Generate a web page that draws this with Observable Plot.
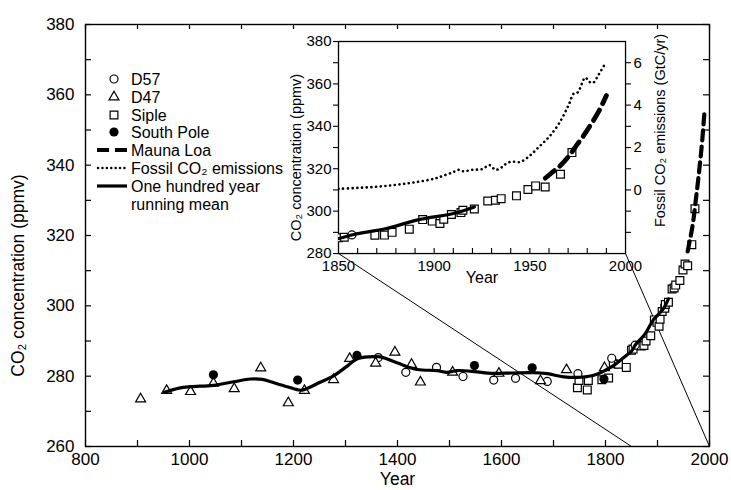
<!DOCTYPE html>
<html><head><meta charset="utf-8">
<script src="https://cdn.jsdelivr.net/npm/d3@7"></script>
<script src="https://cdn.jsdelivr.net/npm/@observablehq/plot@0.6"></script>
<style>
html,body{margin:0;padding:0;background:#fff;}
#chart{position:relative;width:731px;height:490px;overflow:hidden;background:#fff;}
#chart > svg{position:absolute;left:0;top:0;overflow:visible;}
</style></head><body><div id="chart"></div>
<script>
// ---------- data ----------
const d57Year = [1363,1416,1475,1526,1585,1627,1688,1747,1812,1857];
const d57Co2  = [285.3,281.1,282.5,279.9,278.9,279.4,278.5,280.7,285.1,288.8];

const d47Year = [906,956,1002,1046,1086,1137,1190,1221,1277,1308,1358,1395,1427,1444,1506,1595,1675,1725,1798];
const d47Co2  = [273.5,275.9,275.6,278.0,276.4,282.3,272.4,275.9,279.0,285.0,283.7,286.8,283.3,278.3,281.1,280.8,278.7,281.8,282.4];

const sipleYear = [1746,1749,1765,1767,1793,1806,1815,1825,1840,1850,1853,1869,1874,1878,1887,1894,1899,1903,1905,1909,1914,1915,1921,1928,1932,1935,1943,1949,1953,1958,1966,1972];
const sipleCo2  = [276.7,278.8,276.1,278.8,279.0,279.5,283.5,283.4,282.5,287.4,287.7,288.6,288.7,290.0,291.5,296.0,295.3,294.2,296.2,298.4,299.3,300.4,301.0,304.8,305.1,305.9,307.2,310.2,311.9,311.4,317.4,327.6];

const spYear = [1046,1208,1322,1548,1659,1797];
const spCo2  = [280.4,278.9,285.9,283.0,282.4,279.2];

const mloYear = [1958,1962,1966,1970,1974,1978,1982,1986,1990];
const mloCo2  = [315.5,318.5,321.5,325.5,330.5,335.5,341.0,347.0,354.5];

const emisYear = [1850,1860,1870,1880,1890,1900,1905,1910,1913,1915,1920,1925,1929,1932,1935,1937,1940,1945,1950,1955,1960,1965,1970,1973,1975,1979,1981,1983,1986,1989];
const emisGtC  = [0.05,0.10,0.15,0.24,0.36,0.53,0.68,0.84,0.95,0.88,0.95,0.98,1.17,0.95,1.05,1.20,1.33,1.32,1.62,2.05,2.50,3.10,3.95,4.55,4.60,5.30,5.10,5.05,5.45,5.90];

const meanYear = [952,980,1002,1046,1085,1117,1140,1156,1188,1213,1221,1250,1277,1300,1322,1348,1367,1399,1438,1476,1495,1515,1553,1581,1620,1660,1688,1720,1752,1782,1815,1840,1850,1858,1875,1892,1910,1921];
const meanCo2  = [275.4,276.6,277.0,277.4,278.4,279.2,279.1,278.4,277.0,276.0,276.2,278.2,280.1,282.5,284.9,285.5,285.5,283.8,281.9,281.6,281.1,281.6,281.2,280.8,280.9,281.0,280.7,279.8,279.7,280.5,283.0,285.9,287.1,289.0,291.8,296.0,298.9,302.0];

const mainXTicks = [800,1000,1200,1400,1600,1800,2000];
const mainYTicks = [260,280,300,320,340,360,380];
const insetXTicks = [1850,1900,1950,2000];
const insetYTicks = [280,300,320,340,360,380];
const emisTicks = [-2,-1,0,1,2,3,4,5,6];

const legendItems = ["D57","D47","Siple","South Pole","Mauna Loa","Fossil CO₂ emissions","One hundred year","running mean"];

// ---------- layout ----------
const FONT = '"Liberation Sans", Arial, Helvetica, sans-serif';
const W = 731, H = 490;
const M = {left:85, right:22, top:24, bottom:44};
const PW = W - M.left - M.right, PH = H - M.top - M.bottom;
const xDomain = [800,2000], yDomain = [260,380];
const insetX = [1850,2000], insetY = [280,380];
// inset frame placement expressed in main-plot data units
const insetBox = {x1:1286.5, x2:1838.5, y1:314.9, y2:375.2};
const em2ppm = d3.scaleLinear().domain([-3,7]).range(insetY);

const pts = (xs, ys) => xs.map((x,i) => ({x, y: ys[i]}));
const d57 = pts(d57Year, d57Co2), d47 = pts(d47Year, d47Co2), siple = pts(sipleYear, sipleCo2);
const sp = pts(spYear, spCo2), mlo = pts(mloYear, mloCo2), mean = pts(meanYear, meanCo2);
const emis = pts(emisYear, emisGtC.map(v => em2ppm(v)));

const openDot = (data, symbol, r, clip=false) => Plot.dot(data, {x:"x", y:"y", symbol, r, fill:"#fff", stroke:"#000", strokeWidth:1.2, clip});
const K = "#000";

const main = Plot.plot({
  width: W, height: H,
  marginLeft: M.left, marginRight: M.right, marginTop: M.top, marginBottom: M.bottom,
  x: {domain: xDomain}, y: {domain: yDomain},
  style: {fontFamily: FONT, fontSize: "17px", color: K, background: "transparent"},
  marks: [
    Plot.link([{x1:insetBox.x1, y1:insetBox.y1, x2:insetX[0], y2:yDomain[0]},
               {x1:insetBox.x2, y1:insetBox.y1, x2:insetX[1], y2:yDomain[0]}],
              {x1:"x1", y1:"y1", x2:"x2", y2:"y2", stroke:K, strokeWidth:1}),
    Plot.ruleX(d3.range(800,2001,100), {insetTop: PH-6, stroke:K, strokeWidth:1.2}),
    Plot.ruleX(d3.range(800,2001,100), {insetBottom: PH-5, stroke:K, strokeWidth:1.2}),
    Plot.ruleY(d3.range(260,381,10), {insetRight: PW-6, stroke:K, strokeWidth:1.2}),
    Plot.ruleY(d3.range(260,381,10), {insetLeft: PW-6, stroke:K, strokeWidth:1.2}),
    Plot.frame({stroke:K, strokeWidth:1.4}),
    Plot.axisX({ticks: mainXTicks, tickSize:0, tickPadding:6, tickFormat: d => String(d), fontSize:17, label:null}),
    Plot.axisY({ticks: mainYTicks, tickSize:0, tickPadding:11, tickFormat: d => String(d), fontSize:17, label:null}),
    Plot.text(["Year"], {frameAnchor:"bottom", textAnchor:"middle", dy:38, fontSize:17.5}),
    Plot.text(["CO₂ concentration (ppmv)"], {frameAnchor:"left", textAnchor:"middle", rotate:-90, dx:-67, dy:40, fontSize:17.5}),
    openDot(siple, "square", 4.4),
    openDot(d57, "circle", 4),
    openDot(d47, "triangle", 3.7),
    Plot.dot(sp, {x:"x", y:"y", r:4.6, fill:K}),
    Plot.line(mean, {x:"x", y:"y", curve:"catmull-rom", stroke:K, strokeWidth:3.2}),
    Plot.line(mlo, {x:"x", y:"y", curve:"catmull-rom", stroke:K, strokeWidth:4.2, strokeDasharray:"10,6"})
  ]
});
document.getElementById("chart").appendChild(main);

// ---------- legend ----------
{
  const g = d3.select(main).append("g").attr("font-family", FONT).attr("font-size", 16)
    .attr("fill", K).attr("text-anchor", "start");
  const rows = [79,97,115,132,150,168,186,204];
  const sx = 114, tx = 131;
  rows.forEach((y,i) => {
    g.append("text").attr("x", tx).attr("y", y).attr("dy", "0.36em").attr("text-anchor","start").text(legendItems[i]);
  });
  const sym = (type, size) => d3.symbol().type(type).size(size)();
  g.append("path").attr("d", sym(d3.symbolCircle, 50)).attr("transform", `translate(${sx},${rows[0]})`).attr("fill","#fff").attr("stroke",K).attr("stroke-width",1.2);
  g.append("path").attr("d", sym(d3.symbolTriangle, 43)).attr("transform", `translate(${sx},${rows[1]})`).attr("fill","#fff").attr("stroke",K).attr("stroke-width",1.2);
  g.append("path").attr("d", sym(d3.symbolSquare, 60)).attr("transform", `translate(${sx},${rows[2]})`).attr("fill","#fff").attr("stroke",K).attr("stroke-width",1.2);
  g.append("circle").attr("cx", sx).attr("cy", rows[3]).attr("r", 4.6).attr("fill", K);
  g.append("line").attr("x1",97).attr("x2",127).attr("y1",rows[4]).attr("y2",rows[4]).attr("stroke",K).attr("stroke-width",4.2).attr("stroke-dasharray","12,6");
  g.append("line").attr("x1",98).attr("x2",127).attr("y1",rows[5]).attr("y2",rows[5]).attr("stroke",K).attr("stroke-width",2.4).attr("stroke-linecap","round").attr("stroke-dasharray","0.1,4.3");
  g.append("line").attr("x1",97).attr("x2",127).attr("y1",rows[6]).attr("y2",rows[6]).attr("stroke",K).attr("stroke-width",3.2);
}

// ---------- inset ----------
{
  const sx = main.scale("x"), sy = main.scale("y");
  const fx1 = sx.apply(insetBox.x1), fx2 = sx.apply(insetBox.x2);
  const fy1 = sy.apply(insetBox.y2), fy2 = sy.apply(insetBox.y1);
  const IM = {left:72, right:50, top:12, bottom:44};
  const IW = fx2 - fx1, IH = fy2 - fy1;
  const inset = Plot.plot({
    width: IW + IM.left + IM.right, height: IH + IM.top + IM.bottom,
    marginLeft: IM.left, marginRight: IM.right, marginTop: IM.top, marginBottom: IM.bottom,
    x: {domain: insetX}, y: {domain: insetY},
    style: {fontFamily: FONT, fontSize: "15px", color: K, background: "transparent", overflow: "visible"},
    marks: [
      Plot.ruleX(d3.range(1860,1991,10), {insetTop: IH-5, stroke:K, strokeWidth:1.1}),
      Plot.frame({stroke:K, strokeWidth:1.3}),
      Plot.axisX({ticks: insetXTicks, tickSize:0, tickPadding:7, tickFormat: d => String(d), fontSize:15, label:null}),
      Plot.axisY({ticks: d3.range(280,381,10), tickSize:5, tickPadding:2, strokeWidth:1.1,
                  tickFormat: d => insetYTicks.includes(d) ? String(d) : "", fontSize:15, label:null}),
      Plot.axisY({anchor:"right", ticks: emisTicks.map(e => em2ppm(e)), tickSize:5, tickPadding:3, strokeWidth:1.1,
                  tickFormat: p => { const e = Math.round(em2ppm.invert(p)); return (e >= 0 && e % 2 === 0) ? String(e) : ""; },
                  fontSize:15, label:null}),
      Plot.text(["Year"], {frameAnchor:"bottom", textAnchor:"middle", dy:29, fontSize:16}),
      Plot.text(["CO₂ concentration (ppmv)"], {frameAnchor:"left", textAnchor:"middle", rotate:-90, dx:-42, dy:10, fontSize:14.5}),
      Plot.text(["Fossil CO₂ emissions (GtC/yr)"], {frameAnchor:"right", textAnchor:"middle", rotate:-90, dx:35, dy:-17, fontSize:14.5}),
      Plot.line(emis, {x:"x", y:"y", curve:"catmull-rom", stroke:K, strokeWidth:2.6, strokeLinecap:"round", strokeDasharray:"0.1,4.6", clip:true}),
      openDot(siple, "square", 4.4, true),
      openDot(d57, "circle", 4, true),
      Plot.line(mean, {x:"x", y:"y", curve:"catmull-rom", stroke:K, strokeWidth:3.2, clip:true}),
      Plot.line(mlo, {x:"x", y:"y", curve:"catmull-rom", stroke:K, strokeWidth:4.8, strokeDasharray:"12,7", clip:true})
    ]
  });
  inset.style.position = "absolute";
  inset.style.overflow = "visible";
  inset.style.left = (fx1 - IM.left) + "px";
  inset.style.top = (fy1 - IM.top) + "px";
  document.getElementById("chart").appendChild(inset);
}
</script>
</body></html>
